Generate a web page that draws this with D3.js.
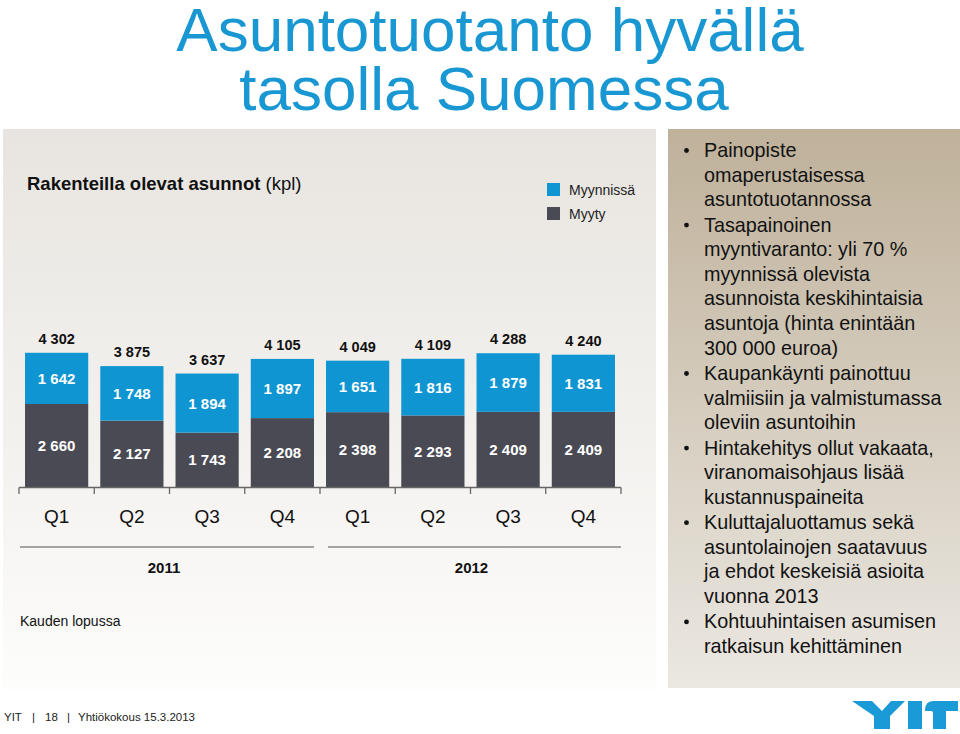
<!DOCTYPE html>
<html><head><meta charset="utf-8">
<script src="https://cdn.jsdelivr.net/npm/d3@7"></script>
<style>
html,body{margin:0;padding:0;background:#fff;}
svg{display:block;font-family:"Liberation Sans",Arial,Helvetica,sans-serif;}
</style></head>
<body>
<svg id="c" width="960" height="734"></svg>
<script>
const quarters = ["Q1","Q2","Q3","Q4","Q1","Q2","Q3","Q4"];
const years = ["2011","2011","2011","2011","2012","2012","2012","2012"];
const myyty = [2660,2127,1743,2208,2398,2293,2409,2409];
const myynnissa = [1642,1748,1894,1897,1651,1816,1879,1831];
const seriesNames = ["Myynnissä","Myyty"];
const bullets = [
  ["Painopiste","omaperustaisessa","asuntotuotannossa"],
  ["Tasapainoinen","myyntivaranto: yli 70 %","myynnissä olevista","asunnoista keskihintaisia","asuntoja (hinta enintään","300 000 euroa)"],
  ["Kaupankäynti painottuu","valmiisiin ja valmistumassa","oleviin asuntoihin"],
  ["Hintakehitys ollut vakaata,","viranomaisohjaus lisää","kustannuspaineita"],
  ["Kuluttajaluottamus sekä","asuntolainojen saatavuus","ja ehdot keskeisiä asioita","vuonna 2013"],
  ["Kohtuuhintaisen asumisen","ratkaisun kehittäminen"]
];

(function(){
const BLUE = "#0f95d2", DARK = "#4a4a54", TITLE = "#1997d2";
const svg = d3.select("#c");
const defs = svg.append("defs");
const g1 = defs.append("linearGradient").attr("id","gl").attr("x1",0).attr("y1",0).attr("x2",0).attr("y2",1);
g1.append("stop").attr("offset","0").attr("stop-color","#e8e5e0");
g1.append("stop").attr("offset","0.55").attr("stop-color","#f3f1ee");
g1.append("stop").attr("offset","1").attr("stop-color","#fdfdfc");
const g2 = defs.append("linearGradient").attr("id","gr").attr("x1",0).attr("y1",0).attr("x2",0).attr("y2",1);
g2.append("stop").attr("offset","0").attr("stop-color","#bfb19a");
g2.append("stop").attr("offset","1").attr("stop-color","#ebe8e2");

// panels
svg.append("rect").attr("x",3).attr("y",129).attr("width",653).attr("height",560).attr("fill","url(#gl)");
svg.append("rect").attr("x",668).attr("y",129).attr("width",292).attr("height",559).attr("fill","url(#gr)");

// main title
const tt = svg.append("g").attr("fill",TITLE).attr("font-size",62).attr("text-anchor","middle");
tt.append("text").attr("x",490).attr("y",51).text("Asuntotuotanto hyvällä");
tt.append("text").attr("x",484).attr("y",110).text("tasolla Suomessa");

// chart title
const ct = svg.append("text").attr("x",27).attr("y",190).attr("font-size",18.5).attr("fill","#111");
ct.append("tspan").attr("font-weight","bold").text("Rakenteilla olevat asunnot");
ct.append("tspan").text(" (kpl)");

// data
const data = quarters.map((q,i)=>({i, q, year: years[i], myyty: myyty[i], myynnissa: myynnissa[i]}));
const idx = data.map(d=>d.i);
const x = d3.scaleBand().domain(idx).range([19,621]).paddingInner(0.16).paddingOuter(0.08);
const y = d3.scaleLinear().domain([0,5000]).range([487,331]);
const step = x.step();
const fmt = d3.formatLocale({decimal:",",thousands:" ",grouping:[3],currency:["","€"]}).format(",d");

const stack = d3.stack().keys(["myyty","myynnissa"])(data);
const colors = {myyty: DARK, myynnissa: BLUE};

stack.forEach(layer=>{
  svg.append("g").selectAll("rect").data(layer).join("rect")
    .attr("x",d=>x(d.data.i)).attr("width",x.bandwidth())
    .attr("y",d=>y(d[1])).attr("height",d=>y(d[0])-y(d[1]))
    .attr("fill",colors[layer.key]);
  svg.append("g").selectAll("text").data(layer).join("text")
    .attr("x",d=>x(d.data.i)+x.bandwidth()/2)
    .attr("y",d=>(y(d[0])+y(d[1]))/2+5.5)
    .attr("text-anchor","middle").attr("fill","#fff").attr("font-weight","bold").attr("font-size",15)
    .text(d=>fmt(d.data[layer.key]));
});
// totals
const topLayer = stack[stack.length-1];
svg.append("g").selectAll("text").data(topLayer).join("text")
  .attr("x",d=>x(d.data.i)+x.bandwidth()/2)
  .attr("y",d=>y(d[1])-9)
  .attr("text-anchor","middle").attr("fill","#111").attr("font-weight","bold").attr("font-size",14.5)
  .text(d=>fmt(d[1]));

// axis
const ax = svg.append("g").attr("stroke","#666").attr("stroke-width",1.3);
ax.append("line").attr("x1",x.range()[0]).attr("x2",x.range()[1]).attr("y1",487.5).attr("y2",487.5);
const bounds = d3.range(idx.length+1).map(k=>x.range()[0]+k*step);
ax.selectAll("line.t").data(bounds).join("line").attr("class","t")
  .attr("x1",d=>d).attr("x2",d=>d).attr("y1",487.5).attr("y2",494);
svg.append("g").selectAll("text").data(data).join("text")
  .attr("x",d=>x(d.i)+x.bandwidth()/2).attr("y",523)
  .attr("text-anchor","middle").attr("font-size",19).attr("fill","#111")
  .text(d=>d.q);

// years
const yearGroups = d3.groups(data,d=>d.year);
yearGroups.forEach(([yr,arr],k)=>{
  const first = arr[0].i, last = arr[arr.length-1].i;
  const x0 = k===0 ? x(first)-step*0.08+1 : x(first)+2;
  const x1 = k===0 ? x(last)+x.bandwidth() : x(last)+x.bandwidth()+step*0.08;
  svg.append("line").attr("x1",x0).attr("x2",x1).attr("y1",547).attr("y2",547)
    .attr("stroke","#888").attr("stroke-width",1.5);
  svg.append("text").attr("x",(x0+x1)/2-3).attr("y",573).attr("text-anchor","middle")
    .attr("font-weight","bold").attr("font-size",15).attr("fill","#111").text(yr);
});

svg.append("text").attr("x",20).attr("y",626).attr("font-size",14).attr("fill","#111").text("Kauden lopussa");

// legend
const lg = svg.append("g");
seriesNames.forEach((n,k)=>{
  lg.append("rect").attr("x",547).attr("y",183+k*24).attr("width",13).attr("height",13)
    .attr("fill", k===0?BLUE:DARK);
  lg.append("text").attr("x",569).attr("y",195+k*24).attr("font-size",14).attr("fill","#222").text(n);
});

// bullets
let by = 157;
const bg = svg.append("g").attr("font-size",19.8).attr("fill","#111");
bullets.forEach((b,bi)=>{
  bg.append("circle").attr("cx",686.5).attr("cy",by-6.5).attr("r",2.4).attr("fill","#111");
  b.forEach((line,li)=>{
    bg.append("text").attr("x",704).attr("y",by).text(line);
    by += 24.6;
  });
  by += 0.8;
});

// footer
const ft = svg.append("g").attr("font-size",11.5).attr("fill","#222");
[["YIT",4],["|",32],["18",45],["|",67],["Yhtiökokous 15.3.2013",78]].forEach(([t,xx])=>{
  ft.append("text").attr("x",xx).attr("y",721).text(t);
});

// logo
const lgo = svg.append("g").attr("fill","#1a9ad6");
lgo.append("path").attr("d","M852,701 L872,701 L882,711 L891,701 L905,701 L890,716 L890,729 L874,729 L874,716 Z");
lgo.append("path").attr("d","M908,701 L922,701 L922,729 L908,729 Z");
lgo.append("path").attr("d","M933,701 L958,701 L958,711 L946,711 L946,729 L933,729 L933,713 Q933,711 931,711 L925,711 Q925,701 933,701 Z");
})();
</script>
</body></html>
